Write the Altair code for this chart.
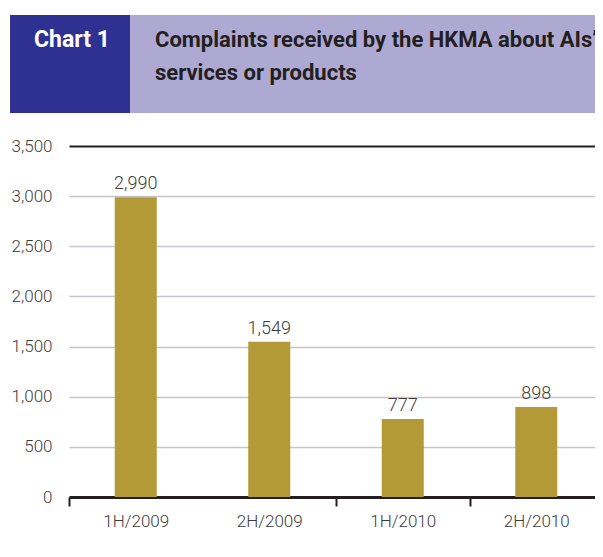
import altair as alt
import pandas as pd

categories = ["1H/2009", "2H/2009", "1H/2010", "2H/2010"]
values = [2990, 1549, 777, 898]
y_ticks = [0, 500, 1000, 1500, 2000, 2500, 3000, 3500]
chart_label = "Chart 1"
title_lines = ["Complaints received by the HKMA about AIs\u2019", "services or products"]

df = pd.DataFrame({"period": categories, "count": values})
one = pd.DataFrame({"k": [0]})

FONT = "Roboto"
TXT = "#3d3b3c"

x_enc = alt.X(
    "period:N",
    sort=categories,
    scale=alt.Scale(paddingInner=0, paddingOuter=0),
    axis=alt.Axis(
        title=None,
        labelAngle=0,
        labelFont=FONT,
        labelFontSize=17,
        labelFontWeight=300,
        labelColor=TXT,
        labelPadding=7,
        domainColor="#231f20",
        domainWidth=3,
        tickBand="extent",
        tickSize=9,
        tickWidth=2,
        tickColor=alt.condition("datum.index === 0", alt.value("transparent"), alt.value("#231f20")),
        grid=False,
    ),
)

y_enc = alt.Y(
    "count:Q",
    scale=alt.Scale(domain=[0, 3500], nice=False),
    axis=alt.Axis(
        title=None,
        values=y_ticks,
        labelExpr="format(datum.value, ',')",
        labelFont=FONT,
        labelFontSize=17,
        labelFontWeight=300,
        labelColor=TXT,
        labelPadding=17,
        ticks=False,
        tickSize=0,
        domain=False,
        grid=True,
        gridColor=alt.condition("datum.value === 3500", alt.value("#231f20"), alt.value("#c6c6cc")),
        gridWidth=alt.condition("datum.value === 3500", alt.value(2), alt.value(1.5)),
    ),
)

bars = alt.Chart(df).mark_bar(size=42, color="#b39a36").encode(x=x_enc, y=y_enc)

labels = alt.Chart(df).mark_text(
    baseline="bottom", dy=-4, font=FONT, fontSize=18, fontWeight=300, color=TXT
).encode(
    x=alt.X("period:N", sort=categories),
    y="count:Q",
    text=alt.Text("count:Q", format=","),
)

dark_box = alt.Chart(one).mark_rect(color="#2e3192").encode(
    x=alt.value(-59), x2=alt.value(61), y=alt.value(-131), y2=alt.value(-33)
)
light_box = alt.Chart(one).mark_rect(color="#aea9d3").encode(
    x=alt.value(61), x2=alt.value(540), y=alt.value(-131), y2=alt.value(-33)
)
chart_txt = alt.Chart(one).mark_text(
    align="left", baseline="alphabetic", font=FONT, fontSize=23, fontWeight="bold", color="#ffffff"
).encode(x=alt.value(-35), y=alt.value(-99), text=alt.value(chart_label))
title1 = alt.Chart(one).mark_text(
    align="left", baseline="alphabetic", font=FONT, fontSize=22, fontWeight="bold", color="#231f20"
).encode(x=alt.value(86), y=alt.value(-99), text=alt.value(title_lines[0]))
title2 = alt.Chart(one).mark_text(
    align="left", baseline="alphabetic", font=FONT, fontSize=22, fontWeight="bold", color="#231f20"
).encode(x=alt.value(86), y=alt.value(-66), text=alt.value(title_lines[1]))

chart = alt.layer(bars, labels, dark_box, light_box, chart_txt, title1, title2).properties(
    width=534,
    height=351,
    padding={"left": 61, "top": 138, "right": -8, "bottom": 45},
    autosize=alt.AutoSizeParams(type="none"),
    background="#ffffff",
).configure_view(stroke=None)

chart.save("out.html", embed_options={"renderer": "svg", "actions": False})
